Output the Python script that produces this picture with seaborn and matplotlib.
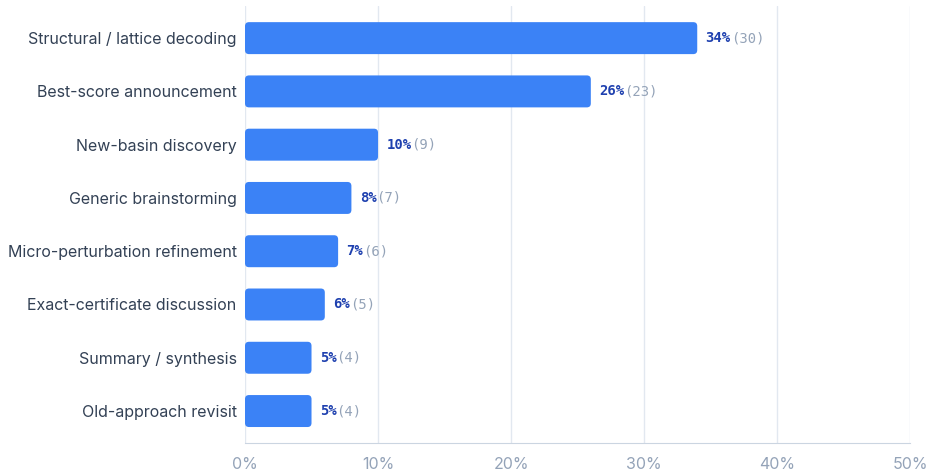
import matplotlib
matplotlib.use("Agg")
import matplotlib.pyplot as plt
from matplotlib.patches import FancyBboxPatch
import seaborn as sns
import pandas as pd

# data
categories = ["Structural / lattice decoding", "Best-score announcement", "New-basin discovery",
              "Generic brainstorming", "Micro-perturbation refinement", "Exact-certificate discussion",
              "Summary / synthesis", "Old-approach revisit"]
pct = [34, 26, 10, 8, 7, 6, 5, 5]
counts = [30, 23, 9, 7, 6, 5, 4, 4]
ticks = [0, 10, 20, 30, 40, 50]

df = pd.DataFrame({"category": categories, "pct": pct, "count": counts})

sns.set_style("white")
plt.rcParams["font.family"] = ["Inter", "DejaVu Sans"]

fig = plt.figure(figsize=(9.33, 4.74), dpi=100)
ax = fig.add_axes([0.2626, 0.0654, 0.7128, 0.9216])

sns.barplot(data=df, x="pct", y="category", color="#3b82f6", width=0.6,
            saturation=1, ax=ax, zorder=3)

ax.set_xlim(0, 50)
ax.set_ylim(7.6, -0.6)

# swap the plain bars for rounded ones
for bar in list(ax.patches):
    x, y = bar.get_x(), bar.get_y()
    w, h = bar.get_width(), bar.get_height()
    rb = FancyBboxPatch((x, y), w, h, boxstyle="round,pad=0,rounding_size=0.3",
                        mutation_aspect=0.25, facecolor="#3b82f6",
                        edgecolor="none", zorder=3)
    bar.remove()
    ax.add_patch(rb)

ax.set_xticks(ticks)
ax.set_xticklabels([f"{t}%" for t in ticks], color="#94a3b8", fontsize=11.5)
ax.tick_params(axis="x", length=0, pad=10)
ax.tick_params(axis="y", length=0, pad=6, labelsize=11.5, labelcolor="#334155")
ax.set_xlabel("")
ax.set_ylabel("")
ax.grid(axis="x", color="#e2e8f0", linewidth=1, zorder=0)
for s in ["top", "right", "left"]:
    ax.spines[s].set_visible(False)
ax.spines["bottom"].set_color("#cbd5e1")

# value labels: bold percent + gray count
fs = 10
char_w = 0.602 * fs  # points per monospace char
for i, (p, c) in enumerate(zip(pct, counts)):
    lab = f"{p}%"
    ax.annotate(lab, (p, i), xytext=(6, 0), textcoords="offset points",
                va="center", ha="left", fontsize=fs, fontweight="bold",
                color="#1e40af", family="DejaVu Sans Mono")
    ax.annotate(f"({c})", (p, i), xytext=(6 + len(lab) * char_w, 0),
                textcoords="offset points", va="center", ha="left",
                fontsize=fs, color="#94a3b8", family="DejaVu Sans Mono")

fig.savefig("out.png", dpi=100)
